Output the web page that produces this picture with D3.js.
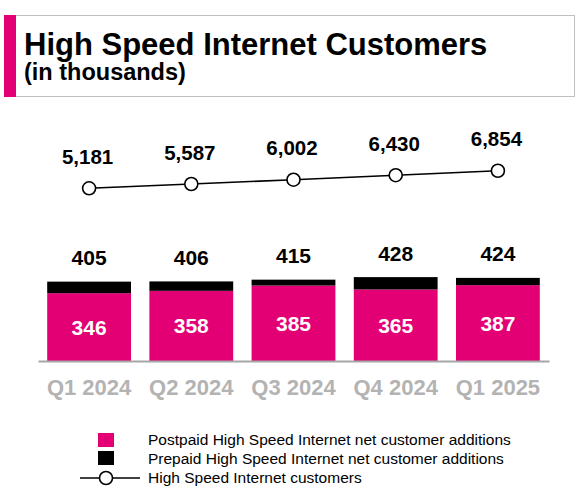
<!DOCTYPE html>
<html>
<head>
<meta charset="utf-8">
<script src="https://cdn.jsdelivr.net/npm/d3@7"></script>
<style>
  body { margin: 0; background: #fff; }
  svg { display: block; font-family: "Liberation Sans", Arial, sans-serif; }
</style>
</head>
<body>
<svg id="chart" width="582" height="494"></svg>
<script>
var quarters = ["Q1 2024", "Q2 2024", "Q3 2024", "Q4 2024", "Q1 2025"];
var postpaid = [346, 358, 385, 365, 387];
var prepaid = [59, 48, 30, 63, 37];
var customers = [5181, 5587, 6002, 6430, 6854];
var legendLabels = [
  "Postpaid High Speed Internet net customer additions",
  "Prepaid High Speed Internet net customer additions",
  "High Speed Internet customers"
];

var magenta = "#e20074";
var svg = d3.select("#chart");

// title box
svg.append("rect")
  .attr("x", 4.5).attr("y", 15.5).attr("width", 570).attr("height", 81)
  .attr("fill", "#fff").attr("stroke", "#bfbfbf").attr("stroke-width", 1);
svg.append("rect")
  .attr("x", 4).attr("y", 15).attr("width", 12).attr("height", 82)
  .attr("fill", magenta);
svg.append("text")
  .attr("x", 24).attr("y", 54.5)
  .attr("font-size", 31).attr("font-weight", "bold")
  .text("High Speed Internet Customers");
svg.append("text")
  .attr("x", 24).attr("y", 80)
  .attr("font-size", 23.5).attr("font-weight", "bold")
  .text("(in thousands)");

var rows = quarters.map(function(q, i){
  return { q: q, post: postpaid[i], pre: prepaid[i], total: postpaid[i] + prepaid[i], cust: customers[i] };
});

var x = d3.scaleBand()
  .domain(quarters)
  .range([38, 549])
  .paddingInner(0.18)
  .paddingOuter(0.09);

var y = d3.scaleLinear().domain([0, 500]).range([361, 263]);
var yLine = d3.scaleLinear().domain([5000, 7000]).range([190.2, 169.2]);

// stacked bars
var bars = svg.append("g");
bars.selectAll(".post").data(rows).enter().append("rect")
  .attr("x", function(d){ return x(d.q); })
  .attr("width", x.bandwidth())
  .attr("y", function(d){ return y(d.post); })
  .attr("height", function(d){ return y(0) - y(d.post); })
  .attr("fill", magenta);
bars.selectAll(".pre").data(rows).enter().append("rect")
  .attr("x", function(d){ return x(d.q); })
  .attr("width", x.bandwidth())
  .attr("y", function(d){ return y(d.total); })
  .attr("height", function(d){ return y(d.post) - y(d.total); })
  .attr("fill", "#000");

// inner labels
bars.selectAll(".inLbl").data(rows).enter().append("text")
  .attr("x", function(d){ return x(d.q) + x.bandwidth() / 2; })
  .attr("y", function(d){ return (y(0) + y(d.post)) / 2 + 7.5; })
  .attr("text-anchor", "middle")
  .attr("font-size", 21).attr("font-weight", "bold").attr("fill", "#fff")
  .text(function(d){ return d.post; });

// totals
bars.selectAll(".totLbl").data(rows).enter().append("text")
  .attr("x", function(d){ return x(d.q) + x.bandwidth() / 2; })
  .attr("y", function(d){ return y(d.total) - 16.5; })
  .attr("text-anchor", "middle")
  .attr("font-size", 21).attr("font-weight", "bold").attr("fill", "#000")
  .text(function(d){ return d.total; });

// x axis
var axis = svg.append("g")
  .attr("transform", "translate(0,361)")
  .call(d3.axisBottom(x).tickSize(0).tickSizeOuter(0).tickPadding(18.4));
axis.select(".domain").attr("stroke", "#a6a6a6").attr("stroke-width", 2);
axis.selectAll("text")
  .attr("font-size", 22).attr("font-weight", "bold").attr("fill", "#b3b3b3")
  .attr("font-family", "'Liberation Sans', Arial, sans-serif");

// customers line
var line = d3.line()
  .x(function(d){ return x(d.q) + x.bandwidth() / 2; })
  .y(function(d){ return yLine(d.cust); });
svg.append("path").datum(rows)
  .attr("d", line).attr("fill", "none")
  .attr("stroke", "#000").attr("stroke-width", 1.6);
svg.selectAll(".dot").data(rows).enter().append("circle")
  .attr("cx", function(d){ return x(d.q) + x.bandwidth() / 2; })
  .attr("cy", function(d){ return yLine(d.cust); })
  .attr("r", 6.5)
  .attr("fill", "#fff").attr("stroke", "#000").attr("stroke-width", 1.6);
svg.selectAll(".custLbl").data(rows).enter().append("text")
  .attr("x", function(d){ return x(d.q) + x.bandwidth() / 2 - 1.5; })
  .attr("y", function(d){ return yLine(d.cust) - 24.5; })
  .attr("text-anchor", "middle")
  .attr("font-size", 20.5).attr("font-weight", "bold")
  .text(function(d){ return d3.format(",")(d.cust); });

// legend
var lg = svg.append("g").attr("font-size", 15.5);
lg.append("rect").attr("x", 98).attr("y", 433).attr("width", 16).attr("height", 14).attr("fill", magenta);
lg.append("rect").attr("x", 98).attr("y", 451).attr("width", 16).attr("height", 14).attr("fill", "#000");
lg.append("line").attr("x1", 80).attr("x2", 140).attr("y1", 478).attr("y2", 478)
  .attr("stroke", "#000").attr("stroke-width", 1.6);
lg.append("circle").attr("cx", 106).attr("cy", 478).attr("r", 6.5)
  .attr("fill", "#fff").attr("stroke", "#000").attr("stroke-width", 1.6);
lg.selectAll(".lgTxt").data(legendLabels).enter().append("text")
  .attr("x", 148)
  .attr("y", function(d, i){ return 445 + i * 18.8; })
  .text(function(d){ return d; });
</script>
</body>
</html>
